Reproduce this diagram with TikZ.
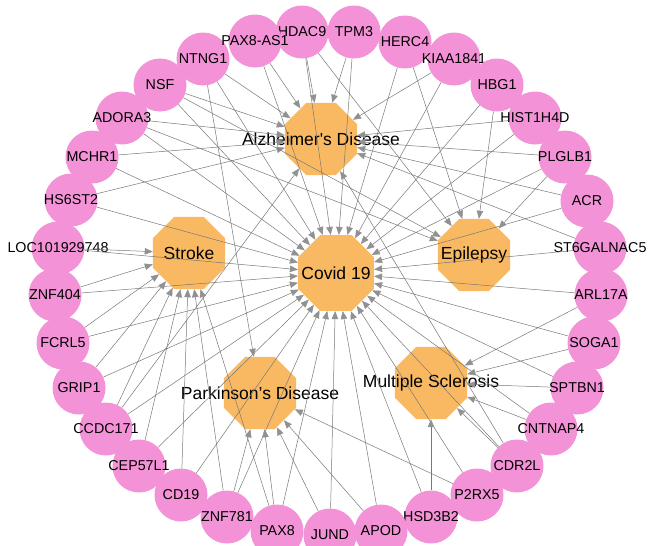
\documentclass[tikz,border=0pt]{standalone}
\usepackage{fontspec}
\setmainfont{Liberation Sans}
\usetikzlibrary{shapes.geometric,arrows.meta}
\definecolor{genepink}{RGB}{243,146,215}
\definecolor{disorange}{RGB}{249,185,99}
\definecolor{linkgray}{RGB}{120,120,120}
\definecolor{tipgray}{RGB}{145,145,145}
\tikzset{
  genetext/.style={font=\fontsize{14.3}{16}\selectfont,inner sep=0pt},
  distext/.style={font=\fontsize{17.5}{20}\selectfont,inner sep=0pt},
  gene/.style={circle,fill=genepink,minimum size=53pt,inner sep=0pt,label={[genetext]center:#1}},
  disease/.style={regular polygon,regular polygon sides=8,fill=disorange,minimum size=78pt,inner sep=0pt,label={[distext]center:#1}},
  link/.style={draw=linkgray,line width=0.5pt,-{Triangle[length=8pt,width=6.5pt,color=tipgray]}}
}
\begin{document}
\begin{tikzpicture}[x=1pt,y=1pt,yscale=-1,xscale=1]
\fill[white] (0,0) rectangle (648,546);
\useasboundingbox (0,0) rectangle (648,546);

\node[gene=HDAC9] (hdac9) at (302,32) {};
\node[gene=TPM3] (tpm3) at (354,32) {};
\node[gene=HERC4] (herc4) at (405,42) {};
\node[gene=KIAA1841] (kiaa) at (454,59) {};
\node[gene=HBG1] (hbg1) at (497,85) {};
\node[gene=HIST1H4D] (hist) at (535,118) {};
\node[gene=PLGLB1] (plglb1) at (565,157) {};
\node[gene=ACR] (acr) at (587,201) {};
\node[gene=ST6GALNAC5] (st6) at (600,248) {};
\node[gene=ARL17A] (arl17a) at (601,295) {};
\node[gene=SOGA1] (soga1) at (594,343) {};
\node[gene=SPTBN1] (sptbn1) at (577,388) {};
\node[gene=CNTNAP4] (cntnap4) at (551,429) {};
\node[gene=CDR2L] (cdr2l) at (517,466) {};
\node[gene=P2RX5] (p2rx5) at (477,495) {};
\node[gene=HSD3B2] (hsd3b2) at (431,517) {};
\node[gene=APOD] (apod) at (381,531) {};
\node[gene=JUND] (jund) at (330,535) {};
\node[gene=PAX8] (pax8) at (277,531) {};
\node[gene=ZNF781] (znf781) at (227,517) {};
\node[gene=CD19] (cd19) at (181,495) {};
\node[gene=CEP57L1] (cep57l1) at (139,466) {};
\node[gene=CCDC171] (ccdc171) at (106,429) {};
\node[gene=GRIP1] (grip1) at (79,388) {};
\node[gene=FCRL5] (fcrl5) at (63,343) {};
\node[gene=ZNF404] (znf404) at (55,295) {};
\node[gene=LOC101929748] (loc) at (58,248) {};
\node[gene=HS6ST2] (hs6st2) at (71,200) {};
\node[gene=MCHR1] (mchr1) at (92,157) {};
\node[gene=ADORA3] (adora3) at (122,118) {};
\node[gene=NSF] (nsf) at (160,85) {};
\node[gene=NTNG1] (ntng1) at (203,59) {};
\node[gene=PAX8-AS1] (pax8as1) at (255,41) {};

\node[disease=Alzheimer\textquotesingle s Disease] (alz) at (321,139) {};
\node[disease=Stroke] (stroke) at (189,253) {};
\node[disease=Covid 19, minimum size=82pt] (covid) at (336,273) {};
\node[disease=Epilepsy] (epi) at (474,255) {};
\node[disease=Parkinson’s Disease] (park) at (260,393) {};
\node[disease=Multiple Sclerosis] (ms) at (431,383) {};

\draw[link] (hdac9) -- (covid);
\draw[link] (tpm3) -- (covid);
\draw[link] (herc4) -- (covid);
\draw[link] (kiaa) -- (covid);
\draw[link] (hbg1) -- (covid);
\draw[link] (hist) -- (covid);
\draw[link] (plglb1) -- (covid);
\draw[link] (acr) -- (covid);
\draw[link] (st6) -- (covid);
\draw[link] (arl17a) -- (covid);
\draw[link] (soga1) -- (covid);
\draw[link] (sptbn1) -- (covid);
\draw[link] (cntnap4) -- (covid);
\draw[link] (cdr2l) -- (covid);
\draw[link] (p2rx5) -- (covid);
\draw[link] (hsd3b2) -- (covid);
\draw[link] (apod) -- (covid);
\draw[link] (jund) -- (covid);
\draw[link] (pax8) -- (covid);
\draw[link] (znf781) -- (covid);
\draw[link] (cd19) -- (covid);
\draw[link] (cep57l1) -- (covid);
\draw[link] (ccdc171) -- (covid);
\draw[link] (grip1) -- (covid);
\draw[link] (fcrl5) -- (covid);
\draw[link] (znf404) -- (covid);
\draw[link] (loc) -- (covid);
\draw[link] (hs6st2) -- (covid);
\draw[link] (mchr1) -- (covid);
\draw[link] (adora3) -- (covid);
\draw[link] (nsf) -- (covid);
\draw[link] (ntng1) -- (covid);
\draw[link] (pax8as1) -- (covid);

\draw[link] (pax8as1) -- (alz);
\draw[link] (ntng1) -- (alz);
\draw[link] (nsf) -- (alz);
\draw[link] (adora3) -- (alz);
\draw[link] (mchr1) -- (alz);
\draw[link] (hs6st2) -- (alz);
\draw[link] (hdac9) -- (alz);
\draw[link] (tpm3) -- (alz);
\draw[link] (kiaa) -- (alz);
\draw[link] (hist) -- (alz);
\draw[link] (plglb1) -- (alz);
\draw[link] (acr) -- (alz);
\draw[link] (st6) -- (alz);
\draw[link] (ccdc171) -- (alz);
\draw[link] (cdr2l) -- (alz);

\draw[link] (adora3) -- (epi);
\draw[link] (nsf) -- (epi);
\draw[link] (hdac9) -- (epi);
\draw[link] (herc4) -- (epi);
\draw[link] (hbg1) -- (epi);
\draw[link] (plglb1) -- (epi);

\draw[link] (loc) -- (stroke);
\draw[link] (znf404) -- (stroke);
\draw[link] (fcrl5) -- (stroke);
\draw[link] (grip1) -- (stroke);
\draw[link] (ccdc171) -- (stroke);
\draw[link] (cep57l1) -- (stroke);
\draw[link] (cd19) -- (stroke);
\draw[link] (znf781) -- (stroke);
\draw[link] (pax8) -- (stroke);

\draw[link] (ntng1) -- (park);
\draw[link] (znf781) -- (park);
\draw[link] (pax8) -- (park);
\draw[link] (jund) -- (park);
\draw[link] (apod) -- (park);
\draw[link] (p2rx5) -- (park);

\draw[link] (arl17a) -- (ms);
\draw[link] (soga1) -- (ms);
\draw[link] (sptbn1) -- (ms);
\draw[link] (cntnap4) -- (ms);
\draw[link] (cdr2l) -- (ms);
\draw[link] (hsd3b2) -- (ms);

\end{tikzpicture}
\end{document}
